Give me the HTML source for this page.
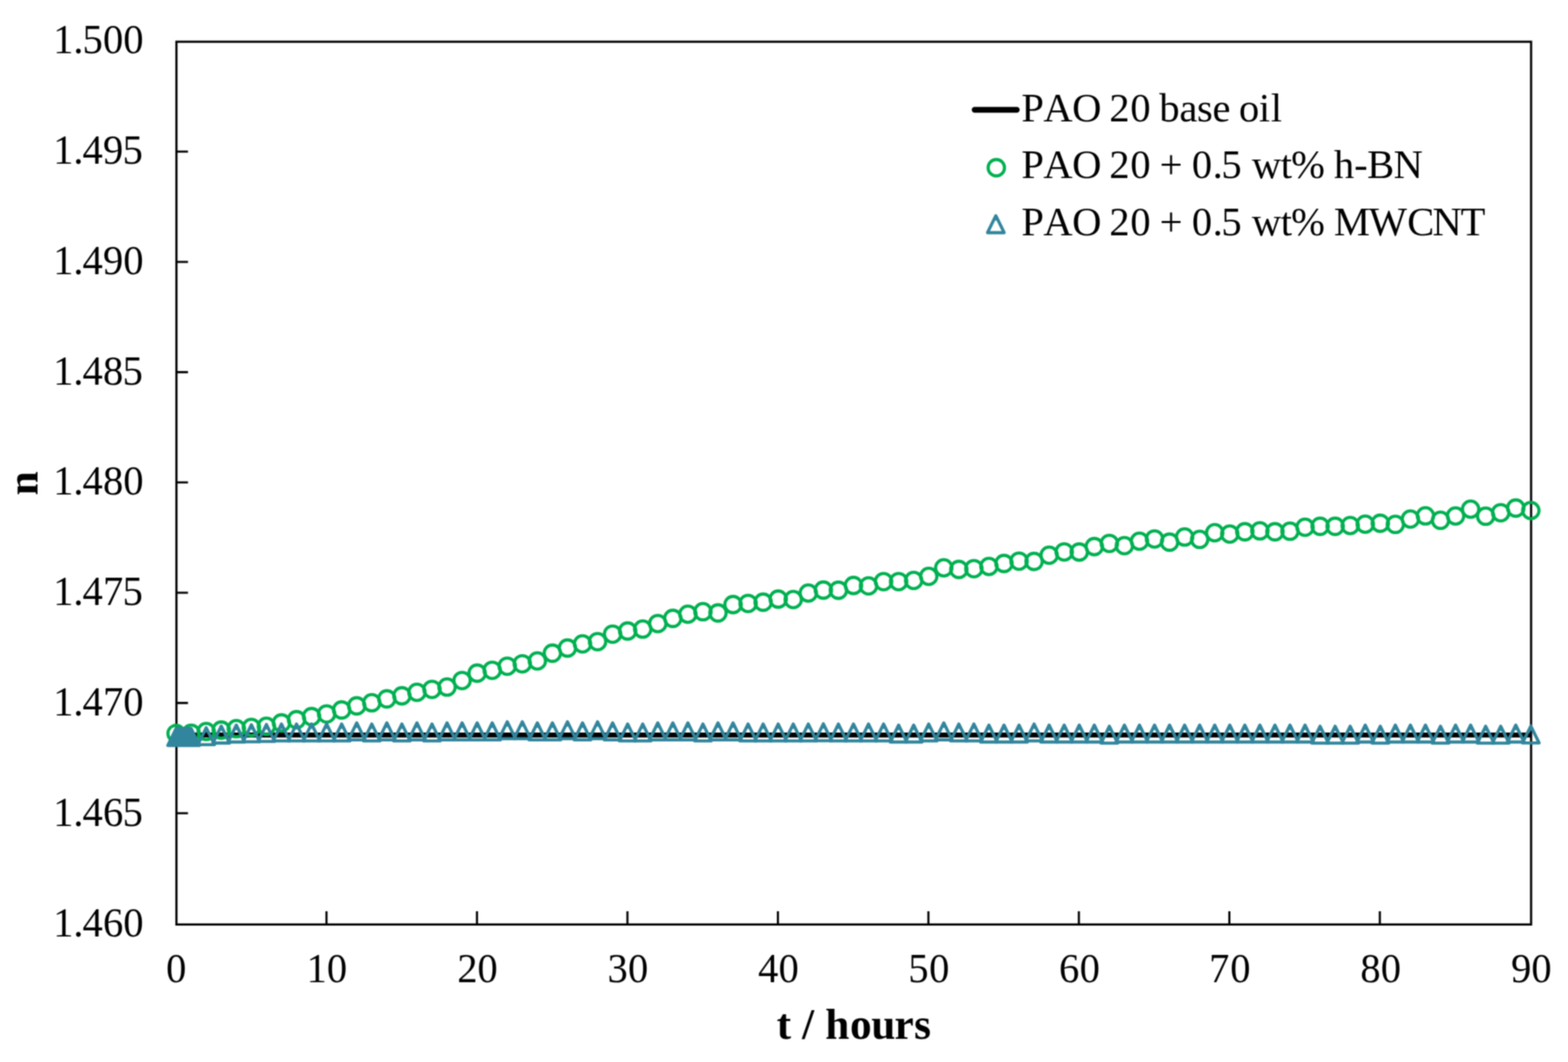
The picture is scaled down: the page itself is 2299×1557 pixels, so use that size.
<!DOCTYPE html>
<html lang="en"><head><meta charset="utf-8">
<title>Refractive index n versus time</title>
<style>
html,body{margin:0;padding:0;background:#fff;}
body{width:2299px;height:1557px;overflow:hidden;}
svg{display:block;position:absolute;left:0;top:0;}
text{font-family:"Liberation Serif","Times New Roman",Times,serif;fill:#000;font-kerning:none;white-space:pre;}
.tk,.lg{font-size:59.5px;}
.ti{font-size:63.5px;font-weight:bold;}
.c{fill:none;stroke:#00b050;stroke-width:4.6;}
.t{fill:none;stroke:#31859c;stroke-width:4.6;stroke-linejoin:round;}
</style></head><body>
<svg width="2299" height="1557" viewBox="0 0 2299 1557" role="img" aria-label="n versus t / hours">
<defs><filter id="soft" x="0" y="0" width="2299" height="1557" filterUnits="userSpaceOnUse" color-interpolation-filters="sRGB"><feConvolveMatrix order="5" kernelMatrix="1 8 16 8 1 8 64 128 64 8 16 128 256 128 16 8 64 128 64 8 1 8 16 8 1" divisor="1156" edgeMode="duplicate"/></filter></defs>
<g filter="url(#soft)">
<rect width="2299" height="1557" fill="#fff"/>
<g id="axes" stroke="#000" fill="none">
<rect x="258.7" y="61.2" width="1986.2" height="1294.2" stroke-width="3.2"/>
<path d="M258.7 222.3H275.6M258.7 383.97H275.6M258.7 545.64H275.6M258.7 707.31H275.6M258.7 868.98H275.6M258.7 1030.65H275.6M258.7 1192.32H275.6M478.7 1355.4V1336M699.33 1355.4V1336M919.96 1355.4V1336M1140.59 1355.4V1336M1361.22 1355.4V1336M1581.85 1355.4V1336M1802.48 1355.4V1336M2023.11 1355.4V1336" stroke-width="3.1"/>
</g>
<g id="ylabels" class="tk">
<text transform="translate(0 78.1) scale(1 1.035)" x="77.9 107.56 120.93 150.93 180.72" y="0">1.500</text>
<text transform="translate(0 239.9) scale(1 1.035)" x="77.9 107.56 120.93 150.93 179.82" y="0">1.495</text>
<text transform="translate(0 401.7) scale(1 1.035)" x="77.9 107.56 120.93 150.93 180.72" y="0">1.490</text>
<text transform="translate(0 563.5) scale(1 1.035)" x="77.9 107.56 120.93 150.93 179.82" y="0">1.485</text>
<text transform="translate(0 725.3) scale(1 1.035)" x="77.9 107.56 120.93 150.93 180.72" y="0">1.480</text>
<text transform="translate(0 887.1) scale(1 1.035)" x="77.9 107.56 120.93 150.93 179.82" y="0">1.475</text>
<text transform="translate(0 1048.9) scale(1 1.035)" x="77.9 107.56 120.93 150.93 180.72" y="0">1.470</text>
<text transform="translate(0 1210.7) scale(1 1.035)" x="77.9 107.56 120.93 150.93 179.82" y="0">1.465</text>
<text transform="translate(0 1372.5) scale(1 1.035)" x="77.9 107.56 120.93 150.93 180.72" y="0">1.460</text>
</g>
<g id="xlabels" class="tk">
<text transform="translate(0 1439.9) scale(1 1.035)" x="243.62" y="0">0</text>
<text transform="translate(0 1439.9) scale(1 1.035)" x="449.43 479.36" y="0">10</text>
<text transform="translate(0 1439.9) scale(1 1.035)" x="670.52 700.09" y="0">20</text>
<text transform="translate(0 1439.9) scale(1 1.035)" x="890.65 920.81" y="0">30</text>
<text transform="translate(0 1439.9) scale(1 1.035)" x="1111.53 1141.55" y="0">40</text>
<text transform="translate(0 1439.9) scale(1 1.035)" x="1331.81 1362.27" y="0">50</text>
<text transform="translate(0 1439.9) scale(1 1.035)" x="1552.71 1583" y="0">60</text>
<text transform="translate(0 1439.9) scale(1 1.035)" x="1772.73 1803.73" y="0">70</text>
<text transform="translate(0 1439.9) scale(1 1.035)" x="1994.56 2024.46" y="0">80</text>
<text transform="translate(0 1439.9) scale(1 1.035)" x="2215.56 2245.19" y="0">90</text>
</g>
<text class="ti" x="1138.7 1159.85 1175.91 1193.56 1210.03 1246.32 1277.41 1311.54 1340.16" y="1523.4">t / hours</text>
<text class="ti" text-anchor="middle" transform="translate(55.1 708.6) rotate(-90)">n</text>
<g id="series-base"><line x1="258.2" y1="1077.7" x2="2244.5" y2="1077.7" stroke="#000" stroke-width="7.2"/></g>
<g id="series-hbn" class="c">
<circle cx="258.2" cy="1075.4" r="12"/>
<circle cx="280.27" cy="1075" r="12"/>
<circle cx="302.34" cy="1072.5" r="12"/>
<circle cx="324.41" cy="1070.4" r="12"/>
<circle cx="346.48" cy="1068.3" r="12"/>
<circle cx="368.55" cy="1066.5" r="12"/>
<circle cx="390.62" cy="1064.8" r="12"/>
<circle cx="412.69" cy="1059.9" r="12"/>
<circle cx="434.76" cy="1055.1" r="12"/>
<circle cx="456.83" cy="1050.6" r="12"/>
<circle cx="478.9" cy="1046.7" r="12"/>
<circle cx="500.97" cy="1040.9" r="12"/>
<circle cx="523.04" cy="1034.9" r="12"/>
<circle cx="545.11" cy="1030.3" r="12"/>
<circle cx="567.18" cy="1024.6" r="12"/>
<circle cx="589.25" cy="1020.1" r="12"/>
<circle cx="611.32" cy="1015" r="12"/>
<circle cx="633.39" cy="1010.7" r="12"/>
<circle cx="655.46" cy="1007.3" r="12"/>
<circle cx="677.53" cy="997.7" r="12"/>
<circle cx="699.6" cy="986.9" r="12"/>
<circle cx="721.67" cy="982.7" r="12"/>
<circle cx="743.74" cy="976.7" r="12"/>
<circle cx="765.81" cy="973.2" r="12"/>
<circle cx="787.88" cy="969" r="12"/>
<circle cx="809.95" cy="957.6" r="12"/>
<circle cx="832.02" cy="950.1" r="12"/>
<circle cx="854.09" cy="944" r="12"/>
<circle cx="876.16" cy="940.7" r="12"/>
<circle cx="898.23" cy="929.7" r="12"/>
<circle cx="920.3" cy="925.1" r="12"/>
<circle cx="942.37" cy="922.3" r="12"/>
<circle cx="964.44" cy="914.2" r="12"/>
<circle cx="986.51" cy="906.6" r="12"/>
<circle cx="1008.58" cy="900.5" r="12"/>
<circle cx="1030.65" cy="896.8" r="12"/>
<circle cx="1052.72" cy="898.6" r="12"/>
<circle cx="1074.79" cy="886.4" r="12"/>
<circle cx="1096.86" cy="884.7" r="12"/>
<circle cx="1118.93" cy="882.9" r="12"/>
<circle cx="1141" cy="878.4" r="12"/>
<circle cx="1163.07" cy="879" r="12"/>
<circle cx="1185.14" cy="869.5" r="12"/>
<circle cx="1207.21" cy="865.1" r="12"/>
<circle cx="1229.28" cy="865.4" r="12"/>
<circle cx="1251.35" cy="858.4" r="12"/>
<circle cx="1273.42" cy="859" r="12"/>
<circle cx="1295.49" cy="852.7" r="12"/>
<circle cx="1317.56" cy="852.7" r="12"/>
<circle cx="1339.63" cy="851" r="12"/>
<circle cx="1361.7" cy="845" r="12"/>
<circle cx="1383.77" cy="832.5" r="12"/>
<circle cx="1405.84" cy="834.9" r="12"/>
<circle cx="1427.91" cy="833.7" r="12"/>
<circle cx="1449.98" cy="830.5" r="12"/>
<circle cx="1472.05" cy="826.1" r="12"/>
<circle cx="1494.12" cy="822.7" r="12"/>
<circle cx="1516.19" cy="823.1" r="12"/>
<circle cx="1538.26" cy="814" r="12"/>
<circle cx="1560.33" cy="809.2" r="12"/>
<circle cx="1582.4" cy="809.4" r="12"/>
<circle cx="1604.47" cy="801.4" r="12"/>
<circle cx="1626.54" cy="796.7" r="12"/>
<circle cx="1648.61" cy="800" r="12"/>
<circle cx="1670.68" cy="793.5" r="12"/>
<circle cx="1692.75" cy="790.2" r="12"/>
<circle cx="1714.82" cy="794.9" r="12"/>
<circle cx="1736.89" cy="787.3" r="12"/>
<circle cx="1758.96" cy="790.8" r="12"/>
<circle cx="1781.03" cy="781" r="12"/>
<circle cx="1803.1" cy="783" r="12"/>
<circle cx="1825.17" cy="779.6" r="12"/>
<circle cx="1847.24" cy="778.3" r="12"/>
<circle cx="1869.31" cy="779.6" r="12"/>
<circle cx="1891.38" cy="778.8" r="12"/>
<circle cx="1913.45" cy="773" r="12"/>
<circle cx="1935.52" cy="771.6" r="12"/>
<circle cx="1957.59" cy="771.6" r="12"/>
<circle cx="1979.66" cy="770.5" r="12"/>
<circle cx="2001.73" cy="768.5" r="12"/>
<circle cx="2023.8" cy="767.1" r="12"/>
<circle cx="2045.87" cy="768.8" r="12"/>
<circle cx="2067.94" cy="761" r="12"/>
<circle cx="2090.01" cy="756.3" r="12"/>
<circle cx="2112.08" cy="762.8" r="12"/>
<circle cx="2134.15" cy="756.5" r="12"/>
<circle cx="2156.22" cy="746.5" r="12"/>
<circle cx="2178.29" cy="756.8" r="12"/>
<circle cx="2200.36" cy="751.7" r="12"/>
<circle cx="2222.43" cy="744.9" r="12"/>
<circle cx="2244.5" cy="748.5" r="12"/>
</g>
<g id="series-mwcnt" class="t">
<path d="M258.2 1068.1l12.2 24.8h-24.4zm0 4.01v3M258.94 1068.1l12.2 24.8h-24.4zm0 4.01v3M259.67 1068.1l12.2 24.8h-24.4zm0 4.01v3M260.41 1068.1l12.2 24.8h-24.4zm0 4.01v3M261.14 1068.1l12.2 24.8h-24.4zm0 4.01v3M261.88 1068.1l12.2 24.8h-24.4zm0 4.01v3M262.61 1068.1l12.2 24.8h-24.4zm0 4.01v3M263.35 1068.1l12.2 24.8h-24.4zm0 4.01v3M264.09 1068.1l12.2 24.8h-24.4zm0 4.01v3M264.82 1068.1l12.2 24.8h-24.4zm0 4.01v3M265.56 1068.1l12.2 24.8h-24.4zm0 4.01v3M266.29 1068.1l12.2 24.8h-24.4zm0 4.01v3M267.03 1068.1l12.2 24.8h-24.4zm0 4.01v3M267.76 1068.1l12.2 24.8h-24.4zm0 4.01v3M268.5 1068.1l12.2 24.8h-24.4zm0 4.01v3M269.24 1068.1l12.2 24.8h-24.4zm0 4.01v3M269.97 1068.1l12.2 24.8h-24.4zm0 4.01v3M270.71 1068.1l12.2 24.8h-24.4zm0 4.01v3M271.44 1068.1l12.2 24.8h-24.4zm0 4.01v3M272.18 1068.1l12.2 24.8h-24.4zm0 4.01v3M272.91 1068.1l12.2 24.8h-24.4zm0 4.01v3M273.65 1068.1l12.2 24.8h-24.4zm0 4.01v3M274.38 1068.1l12.2 24.8h-24.4zm0 4.01v3M275.12 1068.1l12.2 24.8h-24.4zm0 4.01v3M275.86 1068.1l12.2 24.8h-24.4zm0 4.01v3M276.59 1068.1l12.2 24.8h-24.4zm0 4.01v3M277.33 1068.1l12.2 24.8h-24.4zm0 4.01v3M278.06 1068.1l12.2 24.8h-24.4zm0 4.01v3M278.8 1068.1l12.2 24.8h-24.4zm0 4.01v3M279.53 1068.1l12.2 24.8h-24.4zm0 4.01v3M280.27 1068.1l12.2 24.8h-24.4zm0 4.01v3"/>
<path d="M302.34 1067.01l12.2 24.8h-24.4zm0 4.01v3"/>
<path d="M324.41 1064.58l12.2 24.8h-24.4zm0 4.01v3"/>
<path d="M346.48 1063.12l12.2 24.8h-24.4zm0 4.01v3"/>
<path d="M368.55 1062.63l12.2 24.8h-24.4zm0 4.01v3"/>
<path d="M390.62 1062.15l12.2 24.8h-24.4zm0 4.01v3"/>
<path d="M412.69 1061.5l12.2 24.8h-24.4zm0 4.01v3"/>
<path d="M434.76 1061.5l12.2 24.8h-24.4zm0 4.01v3"/>
<path d="M456.83 1061.5l12.2 24.8h-24.4zm0 4.01v3"/>
<path d="M478.9 1061.5l12.2 24.8h-24.4zm0 4.01v3"/>
<path d="M500.97 1061.5l12.2 24.8h-24.4zm0 4.01v3"/>
<path d="M523.04 1059.88l12.2 24.8h-24.4zm0 4.01v3"/>
<path d="M545.11 1061.5l12.2 24.8h-24.4zm0 4.01v3"/>
<path d="M567.18 1059.88l12.2 24.8h-24.4zm0 4.01v3"/>
<path d="M589.25 1061.5l12.2 24.8h-24.4zm0 4.01v3"/>
<path d="M611.32 1059.88l12.2 24.8h-24.4zm0 4.01v3"/>
<path d="M633.39 1061.5l12.2 24.8h-24.4zm0 4.01v3"/>
<path d="M655.46 1059.88l12.2 24.8h-24.4zm0 4.01v3"/>
<path d="M677.53 1059.88l12.2 24.8h-24.4zm0 4.01v3"/>
<path d="M699.6 1059.88l12.2 24.8h-24.4zm0 4.01v3"/>
<path d="M721.67 1059.88l12.2 24.8h-24.4zm0 4.01v3"/>
<path d="M743.74 1058.26l12.2 24.8h-24.4zm0 4.01v3"/>
<path d="M765.81 1058.26l12.2 24.8h-24.4zm0 4.01v3"/>
<path d="M787.88 1059.88l12.2 24.8h-24.4zm0 4.01v3"/>
<path d="M809.95 1059.88l12.2 24.8h-24.4zm0 4.01v3"/>
<path d="M832.02 1058.26l12.2 24.8h-24.4zm0 4.01v3"/>
<path d="M854.09 1059.88l12.2 24.8h-24.4zm0 4.01v3"/>
<path d="M876.16 1058.26l12.2 24.8h-24.4zm0 4.01v3"/>
<path d="M898.23 1059.88l12.2 24.8h-24.4zm0 4.01v3"/>
<path d="M920.3 1061.5l12.2 24.8h-24.4zm0 4.01v3"/>
<path d="M942.37 1061.5l12.2 24.8h-24.4zm0 4.01v3"/>
<path d="M964.44 1059.88l12.2 24.8h-24.4zm0 4.01v3"/>
<path d="M986.51 1059.88l12.2 24.8h-24.4zm0 4.01v3"/>
<path d="M1008.58 1059.88l12.2 24.8h-24.4zm0 4.01v3"/>
<path d="M1030.65 1061.5l12.2 24.8h-24.4zm0 4.01v3"/>
<path d="M1052.72 1059.88l12.2 24.8h-24.4zm0 4.01v3"/>
<path d="M1074.79 1059.88l12.2 24.8h-24.4zm0 4.01v3"/>
<path d="M1096.86 1061.5l12.2 24.8h-24.4zm0 4.01v3"/>
<path d="M1118.93 1061.5l12.2 24.8h-24.4zm0 4.01v3"/>
<path d="M1141 1061.5l12.2 24.8h-24.4zm0 4.01v3"/>
<path d="M1163.07 1061.5l12.2 24.8h-24.4zm0 4.01v3"/>
<path d="M1185.14 1061.5l12.2 24.8h-24.4zm0 4.01v3"/>
<path d="M1207.21 1061.18l12.2 24.8h-24.4zm0 4.01v3"/>
<path d="M1229.28 1061.5l12.2 24.8h-24.4zm0 4.01v3"/>
<path d="M1251.35 1061.5l12.2 24.8h-24.4zm0 4.01v3"/>
<path d="M1273.42 1061.5l12.2 24.8h-24.4zm0 4.01v3"/>
<path d="M1295.49 1061.5l12.2 24.8h-24.4zm0 4.01v3"/>
<path d="M1317.56 1063.12l12.2 24.8h-24.4zm0 4.01v3"/>
<path d="M1339.63 1063.12l12.2 24.8h-24.4zm0 4.01v3"/>
<path d="M1361.7 1061.5l12.2 24.8h-24.4zm0 4.01v3"/>
<path d="M1383.77 1059.88l12.2 24.8h-24.4zm0 4.01v3"/>
<path d="M1405.84 1061.5l12.2 24.8h-24.4zm0 4.01v3"/>
<path d="M1427.91 1061.5l12.2 24.8h-24.4zm0 4.01v3"/>
<path d="M1449.98 1063.12l12.2 24.8h-24.4zm0 4.01v3"/>
<path d="M1472.05 1063.12l12.2 24.8h-24.4zm0 4.01v3"/>
<path d="M1494.12 1063.12l12.2 24.8h-24.4zm0 4.01v3"/>
<path d="M1516.19 1061.5l12.2 24.8h-24.4zm0 4.01v3"/>
<path d="M1538.26 1063.12l12.2 24.8h-24.4zm0 4.01v3"/>
<path d="M1560.33 1063.12l12.2 24.8h-24.4zm0 4.01v3"/>
<path d="M1582.4 1063.12l12.2 24.8h-24.4zm0 4.01v3"/>
<path d="M1604.47 1063.12l12.2 24.8h-24.4zm0 4.01v3"/>
<path d="M1626.54 1064.74l12.2 24.8h-24.4zm0 4.01v3"/>
<path d="M1648.61 1063.12l12.2 24.8h-24.4zm0 4.01v3"/>
<path d="M1670.68 1063.12l12.2 24.8h-24.4zm0 4.01v3"/>
<path d="M1692.75 1063.12l12.2 24.8h-24.4zm0 4.01v3"/>
<path d="M1714.82 1063.12l12.2 24.8h-24.4zm0 4.01v3"/>
<path d="M1736.89 1063.12l12.2 24.8h-24.4zm0 4.01v3"/>
<path d="M1758.96 1063.12l12.2 24.8h-24.4zm0 4.01v3"/>
<path d="M1781.03 1063.12l12.2 24.8h-24.4zm0 4.01v3"/>
<path d="M1803.1 1063.12l12.2 24.8h-24.4zm0 4.01v3"/>
<path d="M1825.17 1063.12l12.2 24.8h-24.4zm0 4.01v3"/>
<path d="M1847.24 1063.12l12.2 24.8h-24.4zm0 4.01v3"/>
<path d="M1869.31 1063.12l12.2 24.8h-24.4zm0 4.01v3"/>
<path d="M1891.38 1063.12l12.2 24.8h-24.4zm0 4.01v3"/>
<path d="M1913.45 1063.12l12.2 24.8h-24.4zm0 4.01v3"/>
<path d="M1935.52 1064.74l12.2 24.8h-24.4zm0 4.01v3"/>
<path d="M1957.59 1064.74l12.2 24.8h-24.4zm0 4.01v3"/>
<path d="M1979.66 1064.74l12.2 24.8h-24.4zm0 4.01v3"/>
<path d="M2001.73 1063.12l12.2 24.8h-24.4zm0 4.01v3"/>
<path d="M2023.8 1064.74l12.2 24.8h-24.4zm0 4.01v3"/>
<path d="M2045.87 1063.12l12.2 24.8h-24.4zm0 4.01v3"/>
<path d="M2067.94 1063.12l12.2 24.8h-24.4zm0 4.01v3"/>
<path d="M2090.01 1063.12l12.2 24.8h-24.4zm0 4.01v3"/>
<path d="M2112.08 1064.74l12.2 24.8h-24.4zm0 4.01v3"/>
<path d="M2134.15 1063.12l12.2 24.8h-24.4zm0 4.01v3"/>
<path d="M2156.22 1063.12l12.2 24.8h-24.4zm0 4.01v3"/>
<path d="M2178.29 1064.74l12.2 24.8h-24.4zm0 4.01v3"/>
<path d="M2200.36 1064.74l12.2 24.8h-24.4zm0 4.01v3"/>
<path d="M2222.43 1063.12l12.2 24.8h-24.4zm0 4.01v3"/>
<path d="M2244.5 1064.42l12.2 24.8h-24.4zm0 4.01v3"/>
</g>
<g id="legend">
<line x1="1428.9" y1="161" x2="1490.9" y2="161" stroke="#000" stroke-width="8.3" stroke-linecap="round"/>
<circle class="c" cx="1460.8" cy="245.9" r="12"/>
<path class="t" d="M1460.1 316.3l12.2 24.8h-24.4zm0 4.01v3"/>
<text class="lg" x="1497.39 1529.84 1572.12 1615.08 1626.61 1657.22 1686.97 1699.86 1729.31 1754.93 1777.66 1804.07 1816.58 1845.78 1863.18" y="177.8">PAO 20 base oil</text>
<text class="lg" x="1497.39 1529.84 1572.12 1615.08 1626.61 1657.22 1686.97 1700.14 1733.7 1747.38 1777.96 1790.76 1820.51 1835.62 1877.77 1893.07 1942.63 1955.78 1985.41 2004.4 2043.29" y="261.3">PAO 20 + 0.5 wt% h-BN</text>
<text class="lg" x="1497.39 1529.84 1572.12 1615.08 1626.61 1657.22 1686.97 1700.14 1733.7 1747.38 1777.96 1790.76 1820.51 1835.62 1877.77 1893.07 1942.63 1955.81 2006.8 2063.33 2100.19 2141.53" y="344.8">PAO 20 + 0.5 wt% MWCNT</text>
</g>
</g>
</svg>
</body></html>
